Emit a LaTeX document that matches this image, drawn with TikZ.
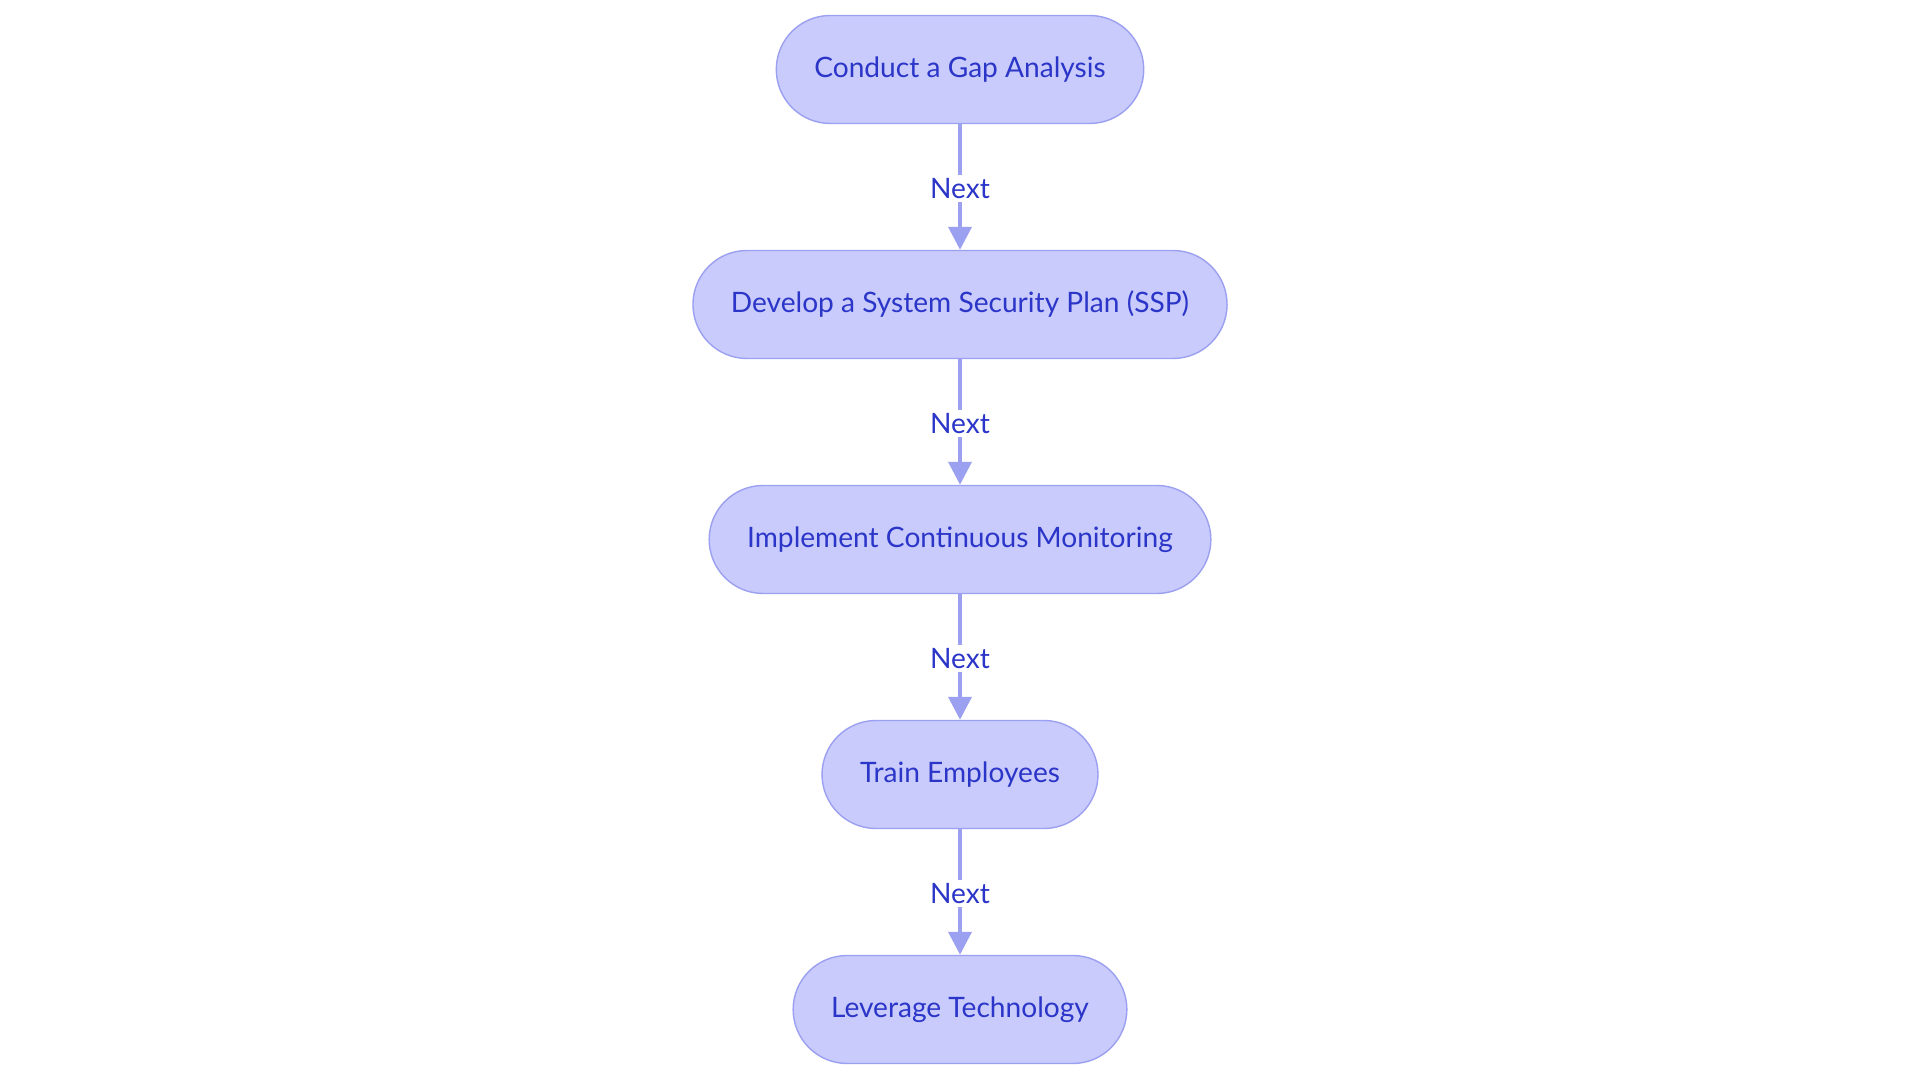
\documentclass[tikz,border=0pt]{standalone}
\usepackage{fontspec}
\setmainfont{Lato}
\usetikzlibrary{arrows.meta, positioning}
\definecolor{StepFill}{RGB}{200, 203, 251}
\definecolor{StepLine}{RGB}{155, 160, 240}
\definecolor{StepText}{RGB}{43, 53, 200}
\tikzstyle{stepbox} = [rectangle, rounded corners=0.54cm, minimum height=1.08cm, inner xsep=0.38cm, text centered, draw=StepLine, fill=StepFill, line width=0.4pt, text=StepText, font=\fontsize{8}{10}\selectfont]
\tikzstyle{arrow} = [-{Triangle[length=0.23cm, width=0.23cm]}, line width=1.1pt, StepLine]
\tikzstyle{nextlabel} = [fill=white, text=StepText, inner sep=1pt, font=\fontsize{8}{10}\selectfont]

\begin{document}
\begin{tikzpicture}[node distance=2.35cm]
\useasboundingbox (0,0) rectangle (19.2,10.83);

% Steps, top to bottom
\node (gap) [stepbox] at (9.6,10.135) {Conduct a Gap Analysis};
\node (ssp) [stepbox, below of=gap] {Develop a System Security Plan (SSP)};
\node (monitor) [stepbox, below of=ssp] {Implement Continuous Monitoring};
\node (train) [stepbox, below of=monitor] {Train Employees};
\node (tech) [stepbox, below of=train] {Leverage Technology};

% Arrows
\draw [arrow] (gap) -- node[nextlabel, pos=0.51] {Next} (ssp);
\draw [arrow] (ssp) -- node[nextlabel, pos=0.51] {Next} (monitor);
\draw [arrow] (monitor) -- node[nextlabel, pos=0.51] {Next} (train);
\draw [arrow] (train) -- node[nextlabel, pos=0.51] {Next} (tech);

\end{tikzpicture}
\end{document}
